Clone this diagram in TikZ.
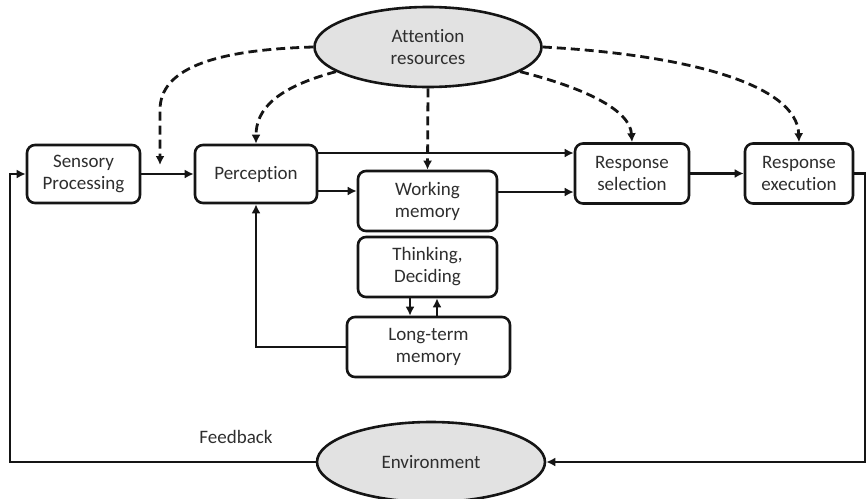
\documentclass[tikz,border=0pt]{standalone}
\usepackage{fontspec}
\setmainfont{Carlito}[Ligatures={NoCommon}]
\usetikzlibrary{arrows.meta,shapes.geometric}
\definecolor{txt}{HTML}{2E2E2E}
\definecolor{ln}{HTML}{151515}
\definecolor{ellfill}{HTML}{E2E2E2}
\tikzset{
  box/.style={draw=ln,line width=2.6pt,rounded corners=8pt,fill=white,align=center,
    text=txt,font=\fontsize{19}{22}\selectfont,inner sep=0pt},
  oval/.style={draw=ln,line width=2.6pt,ellipse,fill=ellfill,align=center,
    text=txt,font=\fontsize{19}{22}\selectfont,inner sep=0pt},
  arr/.style={draw=ln,line width=2.6pt,-{Latex[length=9pt,width=9pt]}},
  darr/.style={draw=ln,line width=2.8pt,dash pattern=on 9pt off 5pt,-{Latex[length=9pt,width=9pt]}},
  lbl/.style={text=txt,font=\fontsize{19}{22}\selectfont}
}
\begin{document}
\begin{tikzpicture}[x=1pt,y=-1pt]
\useasboundingbox (0,0) rectangle (867,498);
% nodes
\node[box,minimum width=113pt,minimum height=58pt] (sp) at (83.5,174) {Sensory\\Processing};
\node[box,minimum width=122pt,minimum height=58pt] (perc) at (256,174) {Perception};
\node[box,minimum width=139pt,minimum height=60pt] (wm) at (427.5,201) {Working\\memory};
\node[box,minimum width=139pt,minimum height=60pt] (th) at (427.5,267) {Thinking,\\Deciding};
\node[box,minimum width=163pt,minimum height=60pt] (ltm) at (428.5,347) {Long-term\\memory};
\node[box,minimum width=114pt,minimum height=60pt] (rs) at (632,173.5) {Response\\selection};
\node[box,minimum width=108pt,minimum height=60pt] (re) at (799,173.5) {Response\\execution};
\node[oval,minimum width=227pt,minimum height=80pt] (att) at (428,47) {Attention\\resources};
\node[oval,minimum width=228pt,minimum height=80pt] (env) at (431,462) {Environment};
\node[lbl] (fb) at (236,437) {Feedback};
\coordinate (fbl) at (10,462);
\coordinate (fbr) at (865,462);
% solid connectors
\draw[arr] (sp.east) -- (perc.west);
\draw[arr] (perc.east |- 0,153) -- (rs.west |- 0,153);
\draw[arr] (perc.east |- 0,191) -- (wm.west |- 0,191);
\draw[arr] (wm.east |- 0,192) -- (rs.west |- 0,192);
\draw[arr] (rs.east) -- (re.west);
\draw[arr] (ltm.west) -| (perc.south);
\draw[arr] (th.south -| 410,0) -- (ltm.north -| 410,0);
\draw[arr] (ltm.north -| 437,0) -- (th.south -| 437,0);
\draw[arr] (env.west) -- (fbl) |- (sp.west);
\draw[arr] (re.east) -| (fbr) -- (env.east);
% dashed attention connectors
\coordinate (d1) at (160,165);
\draw[darr] (att.180) .. controls (210,50) and (160,70) .. (160,110) -- (d1);
\draw[darr] (att.195) .. controls (275,88) and (256,110) .. (perc.north);
\draw[darr] (att.south) -- (wm.north);
\draw[darr] (att.345) .. controls (585,88) and (630,110) .. (rs.north);
\draw[darr] (att.east) .. controls (690,55) and (797,85) .. (re.north);
\end{tikzpicture}
\end{document}
